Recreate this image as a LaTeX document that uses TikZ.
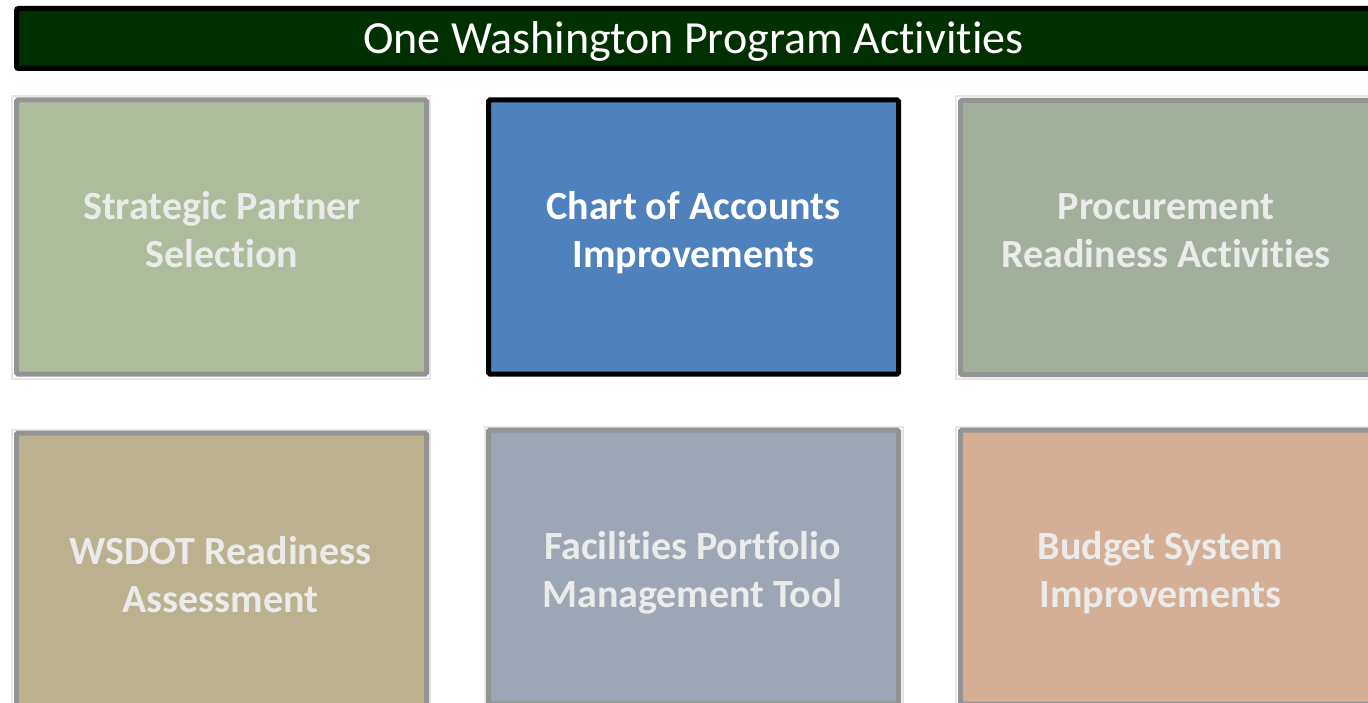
\documentclass[tikz,border=0pt]{standalone}
\usepackage{fontspec}
\setmainfont{Carlito}[Ligatures=NoCommon]
\definecolor{hdr}{HTML}{003000}
\definecolor{cA}{HTML}{ADBC9D}
\definecolor{cB}{HTML}{4F81BD}
\definecolor{cC}{HTML}{A3AF9D}
\definecolor{cD}{HTML}{BBB18E}
\definecolor{cE}{HTML}{9DA6B4}
\definecolor{cF}{HTML}{D5AF95}
\definecolor{gborder}{HTML}{939393}
\definecolor{halo}{HTML}{E6E6E6}
\definecolor{fadetext}{HTML}{EBEBEB}
\tikzset{
  tile/.style={draw=gborder, line width=5pt, rounded corners=1.5pt, minimum width=410pt, minimum height=274pt, inner sep=0pt},
  hitile/.style={tile, draw=black},
  halotile/.style={draw=halo, line width=2pt, minimum width=418pt, minimum height=282pt, inner sep=0pt},
  lbl/.style={font=\fontsize{40}{48}\selectfont\bfseries, text=fadetext, align=center, anchor=base, inner sep=0pt},
  hilbl/.style={lbl, text=white},
}
\begin{document}
\begin{tikzpicture}[x=1pt,y=-1pt]
\useasboundingbox (0,0) rectangle (1368,703);
\clip (0,0) rectangle (1368,703);
% header
\node[draw=black, fill=hdr, line width=5pt, rounded corners=2pt, minimum width=1372pt, minimum height=60pt, inner sep=0pt] (hdr) at (702.5,38.5) {};
\node[font=\fontsize{46}{54}\selectfont, text=white, anchor=base, inner sep=0pt] (title) at (693.5,54) {One Washington Program Activities};
% halos
\node[halotile] (h1) at (221,237.5) {};
\node[halotile] (h3) at (1165,237.5) {};
\node[halotile] (h4) at (221,571) {};
\node[halotile] (h5) at (693.5,568) {};
\node[halotile] (h6) at (1165,568) {};
% tiles
\node[tile, fill=cA] (b1) at (221.5,237) {};
\node[hitile, fill=cB] (b2) at (693.5,237) {};
\node[tile, fill=cC] (b3) at (1165.5,237.5) {};
\node[tile, fill=cD] (b4) at (221.5,570) {};
\node[tile, fill=cE] (b5) at (693.5,567) {};
\node[tile, fill=cF] (b6) at (1165.5,567) {};
% labels (base anchor = baseline of last line)
\node[lbl] (t1) at (222,268) {Strategic Partner\\Selection};
\node[hilbl] (t2) at (693.5,268) {Chart of Accounts\\Improvements};
\node[lbl] (t3) at (1166,268) {Procurement\\Readiness Activities};
\node[lbl] (t4) at (220.5,612) {WSDOT Readiness\\Assessment};
\node[lbl] (t5) at (692.5,607) {Facilities Portfolio\\Management Tool};
\node[lbl] (t6) at (1160.5,607) {Budget System\\Improvements};
\end{tikzpicture}
\end{document}
